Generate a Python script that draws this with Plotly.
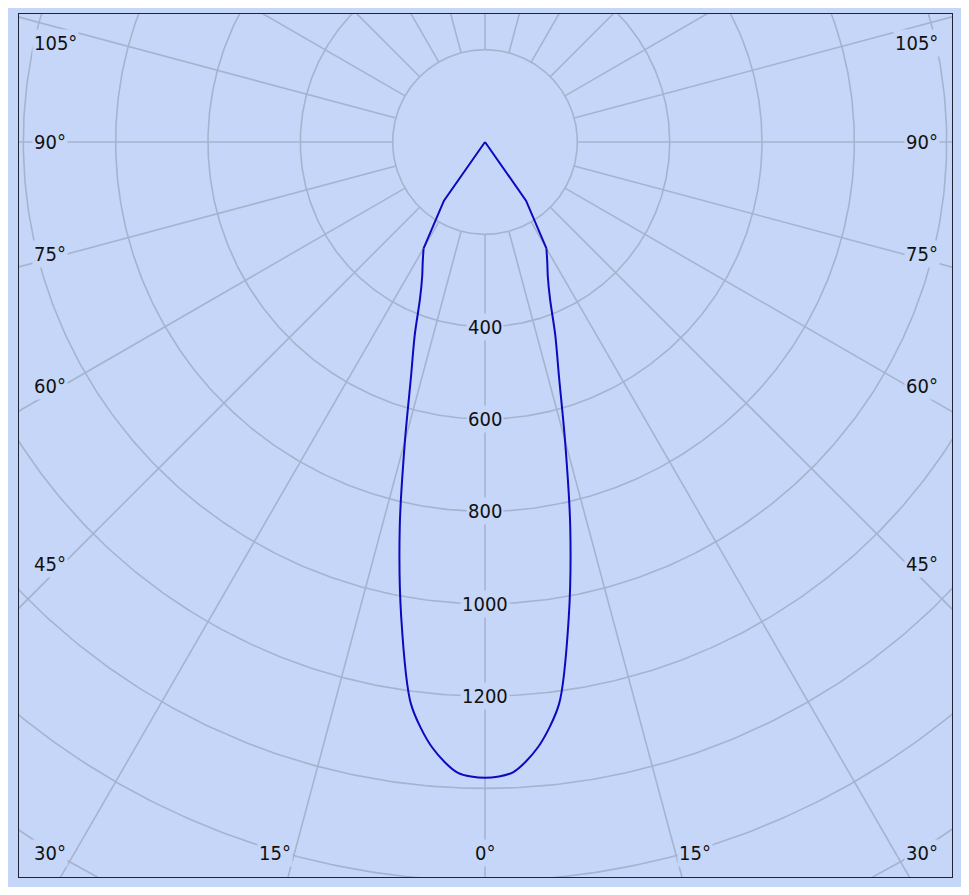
import numpy as np
import plotly.graph_objects as go

# ---- data (luminous intensity vs. angle, symmetric curve) ----
lobe_angles = [0, 2.5, 5, 7.5, 10, 12.5, 15, 17.5, 20, 22.5, 25, 27.5, 30]
lobe_values = [1377, 1367, 1316, 1228, 1045, 853, 670, 533, 445, 368, 322, 292, 266]
tail_angles = [30, 35, 40]
tail_values = [266, 155, 0]

radial_ticks = [400, 600, 800, 1000, 1200]
grid_radii = [200, 400, 600, 800, 1000, 1200, 1400, 1600, 1800, 2000, 2200]
spoke_angles = list(range(0, 360, 15))
angle_labels_left = ["105°", "90°", "75°", "60°", "45°", "30°"]
angle_labels_bottom = ["15°", "0°", "15°"]
angle_labels_right = ["105°", "90°", "75°", "60°", "45°", "30°"]

BG = "#C6D6F8"
GRID = "#A6B3CF"
CURVE = "#0A0ABE"
FONT = "DejaVu Sans Condensed, DejaVu Sans, Verdana, sans-serif"

OFF = 8                      # page body margin of the browser
W, H = 969 - 2 * OFF, 895 - 2 * OFF
# target plot area / centre in screen px
L, R, T, B = 19, 952, 14, 877
CX, CY = 485, 142
PX_PER_UNIT = 0.4617
s = 1.0 / PX_PER_UNIT

fig = go.Figure()

# grid circles
t = np.linspace(0, 2 * np.pi, 721)
cx, cy = [], []
for r in grid_radii:
    cx += list(r * np.sin(t)) + [None]
    cy += list(-r * np.cos(t)) + [None]
fig.add_trace(go.Scatter(x=cx, y=cy, mode="lines", line=dict(color=GRID, width=1.6),
                         hoverinfo="skip", showlegend=False))

# spokes
sx, sy = [], []
for a in spoke_angles:
    ar = np.radians(a)
    sx += [grid_radii[0] * np.sin(ar), grid_radii[-1] * np.sin(ar), None]
    sy += [-grid_radii[0] * np.cos(ar), -grid_radii[-1] * np.cos(ar), None]
fig.add_trace(go.Scatter(x=sx, y=sy, mode="lines", line=dict(color=GRID, width=1.6),
                         hoverinfo="skip", showlegend=False))


def mirrored(angles, values):
    a = np.array(angles, dtype=float)
    v = np.array(values, dtype=float)
    fa = np.concatenate([-a[::-1], a[1:]]) if a[0] == 0 else a
    fv = np.concatenate([v[::-1], v[1:]]) if a[0] == 0 else v
    th = np.radians(fa)
    return fv * np.sin(th), -fv * np.cos(th)

# smooth lobe
lx, ly = mirrored(lobe_angles, lobe_values)
fig.add_trace(go.Scatter(x=lx, y=ly, mode="lines", line=dict(color=CURVE, width=2, shape="spline", smoothing=0.8),
                         hoverinfo="skip", showlegend=False))
# tails to the centre (both sides)
for sign in (1, -1):
    ta = np.radians(np.array(tail_angles, dtype=float) * sign)
    tv = np.array(tail_values, dtype=float)
    fig.add_trace(go.Scatter(x=tv * np.sin(ta), y=-tv * np.cos(ta), mode="lines",
                             line=dict(color=CURVE, width=2), hoverinfo="skip", showlegend=False))

# radial tick labels
for v in radial_ticks:
    fig.add_annotation(x=0, y=-v, text=str(v), showarrow=False, xanchor="center", yanchor="middle",
                       font=dict(family=FONT, size=20, color="#111111"), bgcolor=BG, borderpad=1)


def paper(px, py):
    return (px - L) / (R - L), (B - py) / (B - T)

label_font = dict(family=FONT, size=20, color="#111111")
left_y = [43, 142, 254, 386, 564, 853]
for txt, py in zip(angle_labels_left, left_y):
    xp, yp = paper(32, py)
    fig.add_annotation(x=xp, y=yp, xref="paper", yref="paper", text=txt, showarrow=False,
                       xanchor="left", yanchor="middle", font=label_font, bgcolor=BG, borderpad=1)
for txt, py in zip(angle_labels_right, left_y):
    xp, yp = paper(940, py)
    fig.add_annotation(x=xp, y=yp, xref="paper", yref="paper", text=txt, showarrow=False,
                       xanchor="right", yanchor="middle", font=label_font, bgcolor=BG, borderpad=1)
for txt, px in zip(angle_labels_bottom, [275, 485, 695]):
    xp, yp = paper(px, 853)
    fig.add_annotation(x=xp, y=yp, xref="paper", yref="paper", text=txt, showarrow=False,
                       xanchor="center", yanchor="middle", font=label_font, bgcolor=BG, borderpad=1)

axis_common = dict(showgrid=False, zeroline=False, showticklabels=False, ticks="",
                   showline=True, mirror=True, linecolor="#1E2433", linewidth=1)
fig.update_xaxes(range=[(L - CX) * s, (R - CX) * s], **axis_common)
fig.update_yaxes(range=[-(B - CY) * s, (CY - T) * s], **axis_common)

fig.update_layout(width=W, height=H, paper_bgcolor=BG, plot_bgcolor=BG,
                  margin=dict(l=L - OFF, r=W - (R - OFF), t=T - OFF, b=H - (B - OFF)),
                  showlegend=False)

fig.write_html("out.html")
